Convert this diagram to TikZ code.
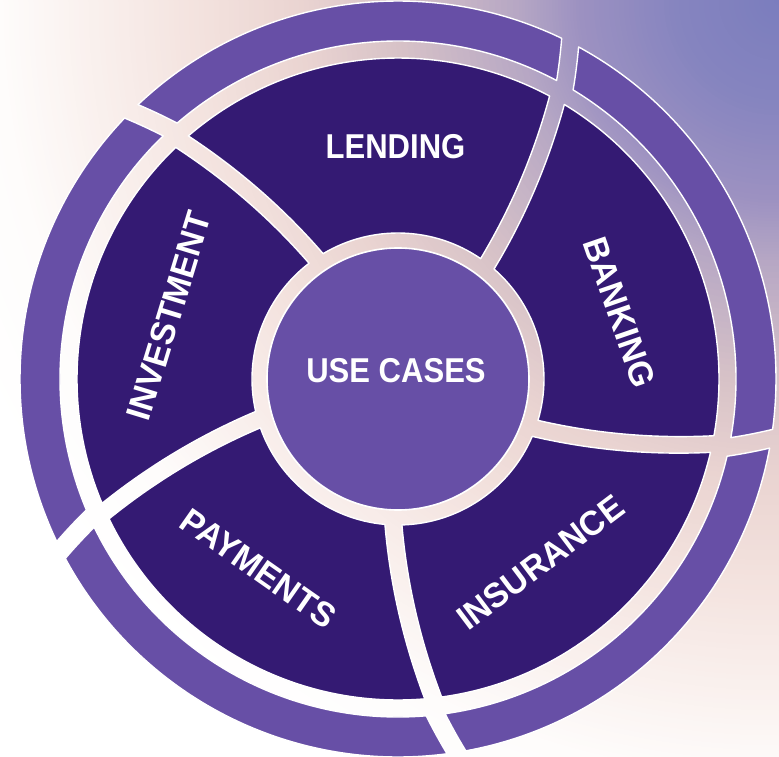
\documentclass[tikz,border=0pt]{standalone}
\usepackage{fontspec}
\setmainfont{Liberation Sans}
\newfontfamily\labelfont{Liberation Sans}[FakeStretch=0.9]
\newfontfamily\labelfontr{Liberation Sans}[FakeStretch=0.97]
\definecolor{darkseg}{HTML}{341A73}
\definecolor{ringc}{HTML}{674FA6}
\definecolor{bgA}{HTML}{7B7DBE}
\definecolor{bgB}{HTML}{8584BF}
\definecolor{bgC}{HTML}{9C91C1}
\definecolor{bgD}{HTML}{B5A6C4}
\definecolor{bgE}{HTML}{D6C1C7}
\definecolor{bgF}{HTML}{EAD4D1}
\definecolor{bgG}{HTML}{F3E2DE}
\definecolor{bgH}{HTML}{F9EFEC}
\definecolor{bgI}{HTML}{FEFCFB}
\tikzset{
  segdark/.style={fill=darkseg, draw=white, line width=1.4pt, line join=round},
  segring/.style={fill=ringc, draw=white, line width=1.4pt, line join=round},
  hubdisk/.style={fill=ringc, draw=white, line width=1.6pt},
  uplabel/.style={text=white, font=\labelfont\bfseries\fontsize{34.5}{35}\selectfont, inner sep=0pt},
  rotlabel/.style={text=white, font=\labelfontr\bfseries\fontsize{34.5}{35}\selectfont, inner sep=0pt}
}
\def\hg{8.5}
\def\hr{9.5}
\begin{document}
\begin{tikzpicture}
\useasboundingbox (-398pt,-378pt) rectangle (381pt,379pt);
% background: radial glow from the top-right corner
\begin{scope}
  \clip (-398pt,-378pt) rectangle (381pt,379pt);
  \fill[white] (-398pt,-378pt) rectangle (381pt,379pt);
  \foreach \ra/\rb/\ca/\cb in {880/780/white/bgI, 780/680/bgI/bgH, 680/580/bgH/bgG, 580/480/bgG/bgF, 480/380/bgF/bgE, 380/260/bgE/bgD, 260/200/bgD/bgC, 200/100/bgC/bgB, 100/0/bgB/bgA} {
    \foreach \i in {0,...,19} {
      \pgfmathsetmacro\rad{\ra-(\ra-\rb)*\i/20}
      \pgfmathsetmacro\pc{100*\i/20}
      \fill[\cb!\pc!\ca] (381pt,379pt) circle[radius=\rad pt];
    }
  }
\end{scope}
% dark segments
\foreach \k in {0,...,4} {
  \pgfmathsetmacro\bA{52.2+72*\k}
  \pgfmathsetmacro\bB{\bA+72}
  \pgfmathsetmacro\aS{\bA+\hg/146*57.2958}
  \pgfmathsetmacro\aE{\bB-\hg/146*57.2958}
  \pgfmathsetmacro\oS{\bB+0.0463*175-\hg/321*57.2958}
  \pgfmathsetmacro\oE{\bA+0.0463*175+\hg/321*57.2958}
  \draw[segdark] (\aS:146pt) arc[start angle=\aS, end angle=\aE, radius=146pt]
    -- plot[variable=\rr, domain=146:321, samples=30] ({\bB+0.0463*(\rr-146)-\hg/\rr*57.2958}:{\rr pt})
    arc[start angle=\oS, end angle=\oE, radius=321pt]
    -- plot[variable=\rr, domain=321:146, samples=30] ({\bA+0.0463*(\rr-146)+\hg/\rr*57.2958}:{\rr pt})
    -- cycle;
}
% outer ring segments
\foreach \k in {0,...,4} {
  \pgfmathsetmacro\bA{60.4+72*\k}
  \pgfmathsetmacro\bB{\bA+72}
  \pgfmathsetmacro\aS{\bA+\hr/338*57.2958}
  \pgfmathsetmacro\aE{\bB-\hr/338*57.2958}
  \pgfmathsetmacro\oS{\bB+0.0625*40-\hr/378*57.2958}
  \pgfmathsetmacro\oE{\bA+0.0625*40+\hr/378*57.2958}
  \draw[segring] (\aS:338pt) arc[start angle=\aS, end angle=\aE, radius=338pt]
    -- plot[variable=\rr, domain=338:378, samples=8] ({\bB+0.0625*(\rr-338)-\hr/\rr*57.2958}:{\rr pt})
    arc[start angle=\oS, end angle=\oE, radius=378pt]
    -- plot[variable=\rr, domain=378:338, samples=8] ({\bA+0.0625*(\rr-338)+\hr/\rr*57.2958}:{\rr pt})
    -- cycle;
}
% hub
\draw[hubdisk] (0pt,0pt) circle[radius=131pt];
\node[uplabel] (hub) at (-2pt,8.5pt) {USE CASES};
\node[uplabel] (lending) at (-2.5pt,232.5pt) {LENDING};
\node[rotlabel, rotate=-71] (banking) at (221.5pt,67pt) {BANKING};
\node[rotlabel, rotate=37] (insurance) at (142.5pt,-183.5pt) {INSURANCE};
\node[rotlabel, rotate=-35] (payments) at (-139.5pt,-189.5pt) {PAYMENTS};
\node[rotlabel, rotate=73] (investment) at (-229pt,63pt) {INVESTMENT};
\end{tikzpicture}
\end{document}
